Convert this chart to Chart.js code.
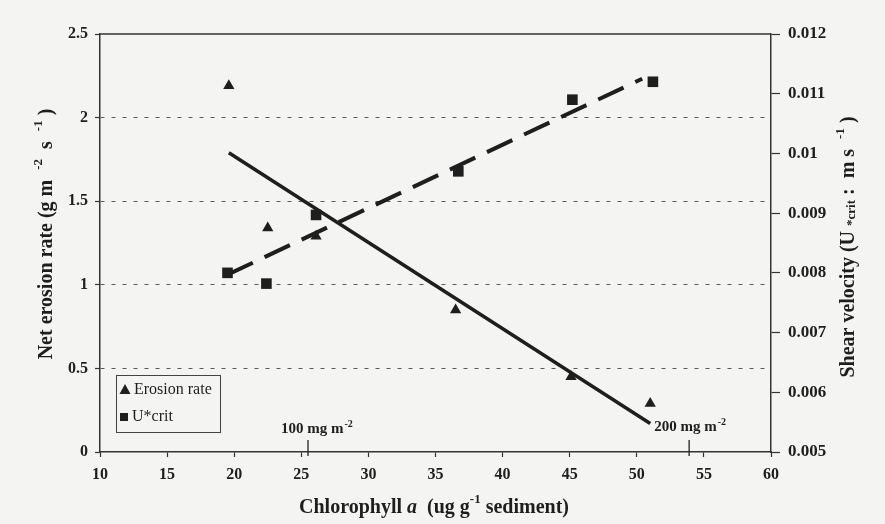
<!DOCTYPE html>
<html><head><meta charset="utf-8">
<script src="https://cdn.jsdelivr.net/npm/chart.js@4.4.0/dist/chart.umd.min.js"></script>
<style>html,body{margin:0;padding:0;background:#f4f4f3;overflow:hidden;}</style>
</head><body>
<canvas id="c" width="885" height="524"></canvas>
<script>
// ---- data ----
const chlorophyllErosion = [19.6, 22.5, 26.1, 36.5, 45.1, 51.0];
const erosionRate = [2.19, 1.34, 1.29, 0.85, 0.45, 0.29];
const chlorophyllUcrit = [19.5, 22.4, 26.1, 36.7, 45.2, 51.2];
const uCrit = [0.0080, 0.00782, 0.00897, 0.0097, 0.0109, 0.0112];
const erosionTrendX = [19.6, 51.0];
const erosionTrendY = [1.79, 0.17];
const uCritTrendX = [19.5, 50.4];
const uCritTrendY = [0.00797, 0.01125];
const xTicks = [10, 15, 20, 25, 30, 35, 40, 45, 50, 55, 60];
const leftTicks = [0, 0.5, 1, 1.5, 2, 2.5];
const rightTicks = [0.005, 0.006, 0.007, 0.008, 0.009, 0.01, 0.011, 0.012];
const seriesNames = ['Erosion rate', 'U*crit'];
const markerLabels = ['100 mg m', '200 mg m'];
const markerX = [25.5, 53.9];

const INK = '#1e1e1e';
const SERIF = '"Liberation Serif", "Times New Roman", serif';

function pts(xs, ys) { return xs.map((x, i) => ({x: x, y: ys[i]})); }

function richWidth(ctx, segs, base, small) {
  let w = 0;
  segs.forEach(s => { ctx.font = s.sup || s.sub ? small : (s.font || base); w += ctx.measureText(s.t).width; });
  return w;
}
function drawRich(ctx, segs, cx, cy, rot, base, small, supOff, subOff) {
  ctx.save();
  ctx.translate(cx, cy);
  ctx.rotate(rot);
  const w = richWidth(ctx, segs, base, small);
  let x = -w / 2;
  ctx.textBaseline = 'middle';
  ctx.textAlign = 'left';
  ctx.fillStyle = INK;
  segs.forEach(s => {
    ctx.font = s.sup || s.sub ? small : (s.font || base);
    const dy = s.sup ? -supOff : (s.sub ? subOff : 0);
    ctx.fillText(s.t, x, dy);
    x += ctx.measureText(s.t).width;
  });
  ctx.restore();
}

const decor = {
  id: 'decor',
  afterDraw(chart) {
    const ctx = chart.ctx;
    const a = chart.chartArea;
    const xs = chart.scales.x;
    // top frame line
    ctx.save();
    ctx.strokeStyle = '#333';
    ctx.lineWidth = 1.5;
    ctx.beginPath();
    ctx.moveTo(a.left, a.top);
    ctx.lineTo(a.right, a.top);
    ctx.stroke();
    ctx.restore();

    const base = 'bold 20px ' + SERIF;
    const small = 'bold 13px ' + SERIF;
    // left axis title
    drawRich(ctx, [
      {t: 'Net erosion rate (g m  '}, {t: '-2', sup: true}, {t: '  s  '}, {t: '-1', sup: true}, {t: ' )'}
    ], 47, 234, -Math.PI / 2, base, small, 8, 3);
    // right axis title
    drawRich(ctx, [
      {t: 'Shear velocity (U '}, {t: '*crit', sub: true}, {t: ' :  m s  '}, {t: '-1', sup: true}, {t: ' )'}
    ], 849, 247, -Math.PI / 2, base, small, 8, 3);
    // x axis title
    drawRich(ctx, [
      {t: 'Chlorophyll '}, {t: 'a', font: 'bold italic 20px ' + SERIF}, {t: '  (ug g'}, {t: '-1', sup: true}, {t: ' sediment)'}
    ], 434, 508, 0, base, small, 8, 3);

    // legend
    ctx.save();
    ctx.strokeStyle = '#444';
    ctx.lineWidth = 1;
    ctx.strokeRect(116.5, 375.5, 104, 57);
    ctx.fillStyle = INK;
    ctx.beginPath();
    ctx.moveTo(125, 384); ctx.lineTo(130.5, 394); ctx.lineTo(119.5, 394); ctx.closePath(); ctx.fill();
    ctx.fillRect(120, 413, 8, 8);
    ctx.font = '16px ' + SERIF;
    ctx.textBaseline = 'middle';
    ctx.textAlign = 'left';
    ctx.fillText(seriesNames[0], 134, 390);
    ctx.fillText(seriesNames[1], 132, 417);
    ctx.restore();

    // chlorophyll per area markers
    ctx.save();
    ctx.strokeStyle = '#222';
    ctx.lineWidth = 1.3;
    const offs = [-27, -35];
    const ty = [429, 427];
    markerLabels.forEach((lab, i) => {
      const px = xs.getPixelForValue(markerX[i]);
      ctx.beginPath();
      ctx.moveTo(px, a.bottom - 12);
      ctx.lineTo(px, a.bottom + 4);
      ctx.stroke();
      const x0 = px + offs[i];
      ctx.font = 'bold 15px ' + SERIF;
      ctx.fillStyle = INK;
      ctx.textBaseline = 'middle';
      ctx.textAlign = 'left';
      ctx.fillText(lab, x0, ty[i]);
      const w = ctx.measureText(lab).width;
      ctx.font = 'bold 10px ' + SERIF;
      ctx.fillText('-2', x0 + w + 1, ty[i] - 5);
    });
    ctx.restore();
  }
};

const tickFont = {family: SERIF, size: 16, weight: 'bold'};
const rightTickFont = {family: SERIF, size: 17, weight: 'bold'};

new Chart(document.getElementById('c'), {
  type: 'scatter',
  data: {
    datasets: [
      {label: seriesNames[0], data: pts(chlorophyllErosion, erosionRate), yAxisID: 'y',
       pointStyle: 'triangle', pointRadius: 6.5, backgroundColor: INK, borderColor: INK, borderWidth: 0, showLine: false},
      {label: seriesNames[1], data: pts(chlorophyllUcrit, uCrit), yAxisID: 'y2',
       pointStyle: 'rect', pointRadius: 7.5, backgroundColor: INK, borderColor: INK, borderWidth: 0, showLine: false},
      {label: 'erosion trend', data: pts(erosionTrendX, erosionTrendY), yAxisID: 'y',
       showLine: true, borderColor: INK, borderWidth: 3.5, pointRadius: 0, fill: false},
      {label: 'ucrit trend', data: pts(uCritTrendX, uCritTrendY), yAxisID: 'y2',
       showLine: true, borderColor: INK, borderWidth: 4, borderDash: [28, 13], pointRadius: 0, fill: false}
    ]
  },
  options: {
    responsive: false,
    devicePixelRatio: 1,
    animation: false,
    layout: {padding: {top: 34, left: 0, right: 0, bottom: 0}},
    plugins: {legend: {display: false}, tooltip: {enabled: false}},
    scales: {
      x: {
        type: 'linear', min: 10, max: 60,
        afterBuildTicks: s => { s.ticks = xTicks.map(v => ({value: v})); },
        afterFit: s => { s.height = 72; },
        ticks: {font: tickFont, color: INK, padding: 8, maxRotation: 0, callback: v => String(v)},
        grid: {drawOnChartArea: false, tickLength: 5, tickColor: '#333', tickWidth: 1.2},
        border: {color: '#333', width: 1.5}
      },
      y: {
        type: 'linear', position: 'left', min: 0, max: 2.5,
        afterBuildTicks: s => { s.ticks = leftTicks.map(v => ({value: v})); },
        afterFit: s => { s.width = 100; },
        ticks: {font: tickFont, color: INK, padding: 7, callback: v => String(v)},
        grid: {
          color: c => (c.tick && (c.tick.value === 0 || c.tick.value === 2.5)) ? 'rgba(0,0,0,0)' : '#5a5a5a',
          lineWidth: 1, tickLength: 5, tickColor: '#333', tickWidth: 1.2
        },
        border: {color: '#333', width: 1.5, dash: [4, 7]}
      },
      y2: {
        type: 'linear', position: 'right', min: 0.005, max: 0.012,
        afterBuildTicks: s => { s.ticks = rightTicks.map(v => ({value: v})); },
        afterFit: s => { s.width = 114; },
        ticks: {font: rightTickFont, color: INK, padding: 8, callback: v => String(v)},
        grid: {drawOnChartArea: false, tickLength: 9, tickColor: '#333', tickWidth: 1.2},
        border: {color: '#333', width: 1.5}
      }
    }
  },
  plugins: [decor]
});
</script>
</body></html>
